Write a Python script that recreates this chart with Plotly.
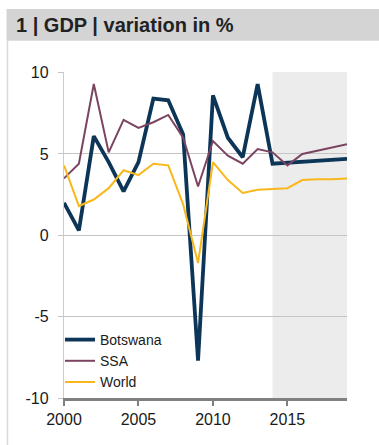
import plotly.graph_objects as go

# GDP growth, % year on year (2014 onwards: forecast)
years = list(range(2000, 2020))
botswana = [2.0, 0.3, 6.1, 4.5, 2.7, 4.5, 8.4, 8.3, 6.2, -7.7,
            8.6, 6.0, 4.8, 9.3, 4.4, 4.45, 4.5, 4.6, 4.65, 4.7]
ssa = [3.5, 4.4, 9.3, 5.1, 7.1, 6.6, 6.95, 7.4, 6.0, 3.0,
       5.8, 4.9, 4.4, 5.3, 5.1, 4.3, 5.0, 5.2, 5.4, 5.6]
world = [4.3, 1.8, 2.2, 2.9, 4.0, 3.7, 4.4, 4.3, 1.9, -1.7,
         4.5, 3.4, 2.6, 2.8, 2.85, 2.9, 3.4, 3.45, 3.45, 3.5]
forecast_start = 2014
y_ticks = [-10, -5, 0, 5, 10]
y_ticktext = ["-10", "-5", "0", "5", "10"]
x_ticks = [2000, 2005, 2010, 2015]

W, H = 379, 445
ML, MR, MT, MB = 64, 32, 72, 47
pw, ph = W - ML - MR, H - MT - MB


def px_x(px):
    return (px - ML) / pw


def px_y(py):
    return (H - MB - py) / ph


fig = go.Figure()
fig.add_trace(go.Scatter(x=years, y=botswana, name="Botswana", mode="lines",
                         line=dict(color="#0c3558", width=3.8)))
fig.add_trace(go.Scatter(x=years, y=ssa, name="SSA", mode="lines",
                         line=dict(color="#7b4561", width=2)))
fig.add_trace(go.Scatter(x=years, y=world, name="World", mode="lines",
                         line=dict(color="#f8b81c", width=2)))

shapes = [
    # forecast period shading
    dict(type="rect", xref="x", yref="paper", x0=forecast_start, x1=years[-1],
         y0=0, y1=1, fillcolor="#ececec", line_width=0, layer="below"),
    # header band
    dict(type="rect", xref="paper", yref="paper", x0=px_x(6.5), x1=px_x(W + 2),
         y0=px_y(40.7), y1=px_y(9), fillcolor="#d4d4d4", line_width=0),
    # panel left border
    dict(type="line", xref="paper", yref="paper", x0=px_x(7.5), x1=px_x(7.5),
         y0=px_y(40.7), y1=px_y(H + 2), line=dict(color="#d9d9d9", width=1.5)),
]

fig.update_layout(
    width=W, height=H,
    margin=dict(l=ML, r=MR, t=MT, b=MB, autoexpand=False),
    paper_bgcolor="white", plot_bgcolor="white",
    font=dict(family="Liberation Sans, Arial, sans-serif", color="#1a1a1a"),
    shapes=shapes,
    annotations=[dict(text="<b>1 | GDP | variation in %</b>", xref="paper", yref="paper",
                      x=px_x(13.5), y=px_y(25), xanchor="left", yanchor="middle",
                      showarrow=False, font=dict(size=20, color="#222222"))],
    showlegend=True,
    legend=dict(x=px_x(60), y=px_y(324), xanchor="left", yanchor="top",
                bgcolor="rgba(0,0,0,0)", font=dict(size=14, color="#1a1a1a"),
                tracegroupgap=0, itemwidth=30),
    xaxis=dict(range=[years[0], years[-1]], tickvals=x_ticks, showgrid=False,
               showline=True, linecolor="#808080", linewidth=2.5,
               ticks="outside", ticklen=5, tickcolor="#808080", tickwidth=1.5,
               tickfont=dict(size=16), zeroline=False, fixedrange=True),
    # top slightly above 10 so the 10 gridline stays drawn
    yaxis=dict(range=[-10, 10.04], tickvals=y_ticks, ticktext=y_ticktext, showgrid=True,
               gridcolor="#c4c4c4", gridwidth=1.3,
               showline=True, linecolor="#cccccc", linewidth=1.3,
               ticks="outside", ticklen=5, tickcolor="#c4c4c4", tickwidth=1.3,
               ticklabelstandoff=6,
               tickfont=dict(size=16), zeroline=False, fixedrange=True),
)

fig.write_html("out.html")
